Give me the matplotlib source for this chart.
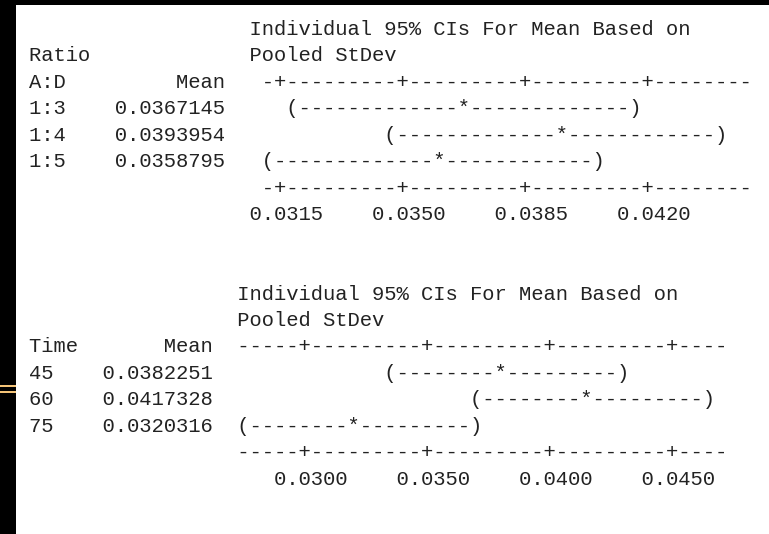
import numpy as np
import matplotlib
matplotlib.use("Agg")
import matplotlib.pyplot as plt
from matplotlib.patches import Rectangle

# Minitab one-way ANOVA output: means and 95% CIs (pooled StDev)
ratio_levels = ['1:3', '1:4', '1:5']
ratio_means = [0.0367145, 0.0393954, 0.0358795]
ratio_half = 0.00480
ratio_ticks = [0.0315, 0.0350, 0.0385, 0.0420]

time_levels = ['45', '60', '75']
time_means = [0.0382251, 0.0417328, 0.0320316]
time_half = 0.00475
time_ticks = [0.0300, 0.0350, 0.0400, 0.0450]

header1 = 'Individual 95% CIs For Mean Based on'
header2 = 'Pooled StDev'

W = 769
H = 534
X0 = 29             # left of column 0
BASE0 = 35          # baseline of first text line
LINE_H = 26.45
WIDTH = 64


def put(row, col, s):
    for i, ch in enumerate(s):
        if 0 <= col + i < len(row):
            row[col + i] = ch


def col_of(v, ticks, first_col):
    step = ticks[1] - ticks[0]
    return int(np.floor(first_col + (v - ticks[0]) / step * 10 + 0.5))


def section(name_lines, levels, means, half, ticks, head_col, mean_end, axis_start, first_col):
    rows = [[' '] * WIDTH for _ in range(8)]
    put(rows[0], head_col, header1)
    put(rows[1], head_col, header2)
    if len(name_lines) == 2:
        put(rows[1], 0, name_lines[0])
    put(rows[2], 0, name_lines[-1])
    put(rows[2], mean_end - 3, 'Mean')

    tick_cols = [col_of(t, ticks, first_col) for t in ticks]
    axis = ''.join('+' if c in tick_cols else '-' for c in range(axis_start, axis_start + 40))
    put(rows[2], axis_start, axis)
    put(rows[6], axis_start, axis)
    for t, c in zip(ticks, tick_cols):
        put(rows[7], c - 2, f'{t:.4f}')

    for i, (lev, m) in enumerate(zip(levels, means)):
        r = rows[3 + i]
        put(r, 0, lev)
        s = f'{m:.7f}'
        put(r, mean_end - len(s) + 1, s)
        lo = col_of(m - half, ticks, first_col)
        hi = col_of(m + half, ticks, first_col)
        mc = col_of(m, ticks, first_col)
        put(r, lo, '(' + '-' * (hi - lo - 1) + ')')
        put(r, mc, '*')
    return [''.join(r).rstrip() for r in rows]


top = section(['Ratio', 'A:D'], ratio_levels, ratio_means, ratio_half, ratio_ticks,
              head_col=18, mean_end=15, axis_start=19, first_col=20)
bottom = section(['Time'], time_levels, time_means, time_half, time_ticks,
                 head_col=17, mean_end=14, axis_start=17, first_col=22)
lines = top + ['', ''] + bottom

fig = plt.figure(figsize=(W / 100, H / 100), dpi=100)
ax = fig.add_axes([0, 0, 1, 1])
ax.set_xlim(0, W)
ax.set_ylim(H, 0)
ax.axis('off')

# screenshot frame
ax.add_patch(Rectangle((0, 0), W, 5, color='black', lw=0))
ax.add_patch(Rectangle((0, 0), 16, H, color='black', lw=0))
ax.add_patch(Rectangle((0, 384.5), 16, 2, color='#f3c377', lw=0))
ax.add_patch(Rectangle((0, 390.5), 16, 2, color='#f3c377', lw=0))

for k, line in enumerate(lines):
    if line:
        ax.text(X0, BASE0 + LINE_H * k, line, family='Liberation Mono',
                fontsize=14.8, color='#222222', ha='left', va='baseline')

fig.savefig('out.png', dpi=100)
